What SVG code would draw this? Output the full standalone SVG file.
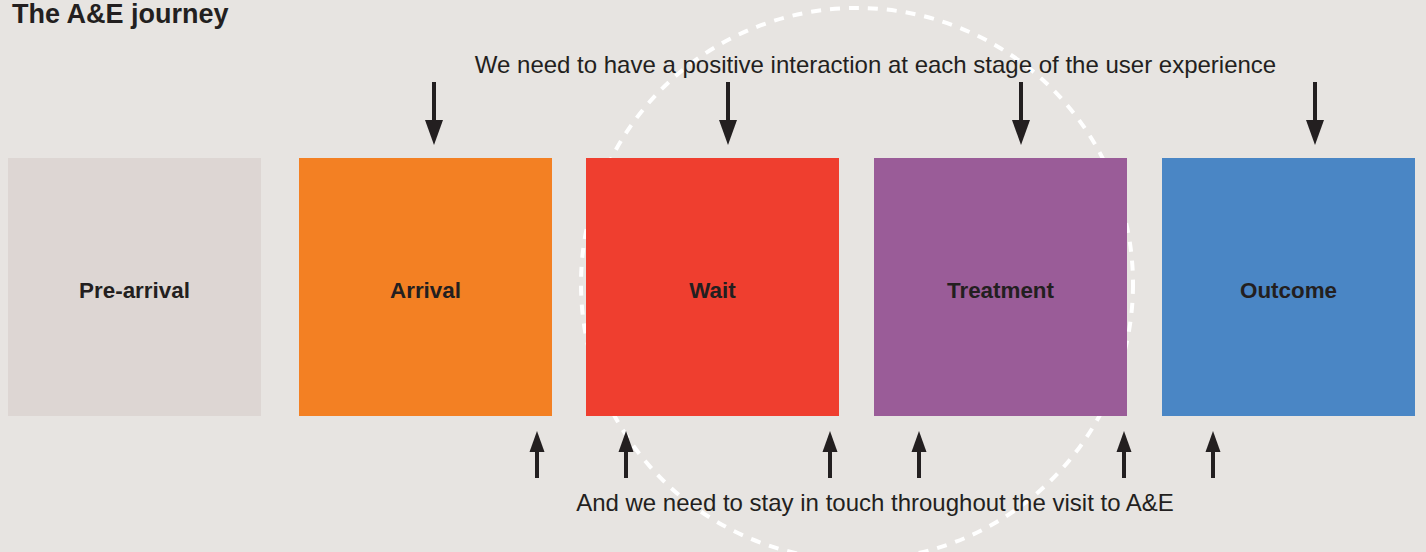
<svg xmlns="http://www.w3.org/2000/svg" width="1426" height="552" viewBox="0 0 1426 552">
  <defs>
    <style>
      .bg { fill: #e7e4e1; }
      .ring { fill: none; stroke: #ffffff; stroke-width: 4; stroke-dasharray: 10 9; }
      .stage text { font-family: "Liberation Sans", Arial, sans-serif; font-weight: bold; font-size: 22.4px; fill: #231f20; text-anchor: middle; }
      .shaft { stroke: #231f20; stroke-width: 4; }
      .head { fill: #231f20; }
      .note { font-family: "Liberation Sans", Arial, sans-serif; font-size: 24px; fill: #231f20; text-anchor: middle; }
      .title { font-family: "Liberation Sans", Arial, sans-serif; font-weight: bold; font-size: 27px; fill: #231f20; }
    </style>
  </defs>

  <rect class="bg" x="0" y="0" width="1426" height="552"/>

  <!-- dashed ring behind the stages -->
  <circle class="ring" cx="857" cy="284" r="276"/>

  <text class="title" x="12" y="23">The A&amp;E journey</text>

  <g id="pre-arrival" class="stage">
    <rect x="8" y="158" width="253" height="258" fill="#ddd6d3"/>
    <text x="134.5" y="298">Pre-arrival</text>
  </g>
  <g id="arrival" class="stage">
    <rect x="299" y="158" width="253" height="258" fill="#f38023"/>
    <text x="425.5" y="298">Arrival</text>
  </g>
  <g id="wait" class="stage">
    <rect x="586" y="158" width="253" height="258" fill="#ef3e2f"/>
    <text x="712.5" y="298">Wait</text>
  </g>
  <g id="treatment" class="stage">
    <rect x="874" y="158" width="253" height="258" fill="#9a5c98"/>
    <text x="1000.5" y="298">Treatment</text>
  </g>
  <g id="outcome" class="stage">
    <rect x="1162" y="158" width="253" height="258" fill="#4a86c5"/>
    <text x="1288.5" y="298">Outcome</text>
  </g>

  <g id="connectors">
    <!-- downward arrows: interaction at each stage -->
    <g transform="translate(434 0)">
      <line class="shaft" x1="0" y1="82" x2="0" y2="122"/>
      <polygon class="head" points="-9,120 9,120 0,145"/>
    </g>
    <g transform="translate(728 0)">
      <line class="shaft" x1="0" y1="82" x2="0" y2="122"/>
      <polygon class="head" points="-9,120 9,120 0,145"/>
    </g>
    <g transform="translate(1021 0)">
      <line class="shaft" x1="0" y1="82" x2="0" y2="122"/>
      <polygon class="head" points="-9,120 9,120 0,145"/>
    </g>
    <g transform="translate(1315 0)">
      <line class="shaft" x1="0" y1="82" x2="0" y2="122"/>
      <polygon class="head" points="-9,120 9,120 0,145"/>
    </g>

    <!-- upward arrows: staying in touch between stages -->
    <g transform="translate(537 0)">
      <line class="shaft" x1="0" y1="450" x2="0" y2="478"/>
      <polygon class="head" points="-7.5,452 7.5,452 0,431"/>
    </g>
    <g transform="translate(626 0)">
      <line class="shaft" x1="0" y1="450" x2="0" y2="478"/>
      <polygon class="head" points="-7.5,452 7.5,452 0,431"/>
    </g>
    <g transform="translate(830 0)">
      <line class="shaft" x1="0" y1="450" x2="0" y2="478"/>
      <polygon class="head" points="-7.5,452 7.5,452 0,431"/>
    </g>
    <g transform="translate(919 0)">
      <line class="shaft" x1="0" y1="450" x2="0" y2="478"/>
      <polygon class="head" points="-7.5,452 7.5,452 0,431"/>
    </g>
    <g transform="translate(1124 0)">
      <line class="shaft" x1="0" y1="450" x2="0" y2="478"/>
      <polygon class="head" points="-7.5,452 7.5,452 0,431"/>
    </g>
    <g transform="translate(1213 0)">
      <line class="shaft" x1="0" y1="450" x2="0" y2="478"/>
      <polygon class="head" points="-7.5,452 7.5,452 0,431"/>
    </g>
  </g>

  <text class="note" x="875.5" y="73">We need to have a positive interaction at each stage of the user experience</text>
  <text class="note" x="875" y="511">And we need to stay in touch throughout the visit to A&amp;E</text>
</svg>
